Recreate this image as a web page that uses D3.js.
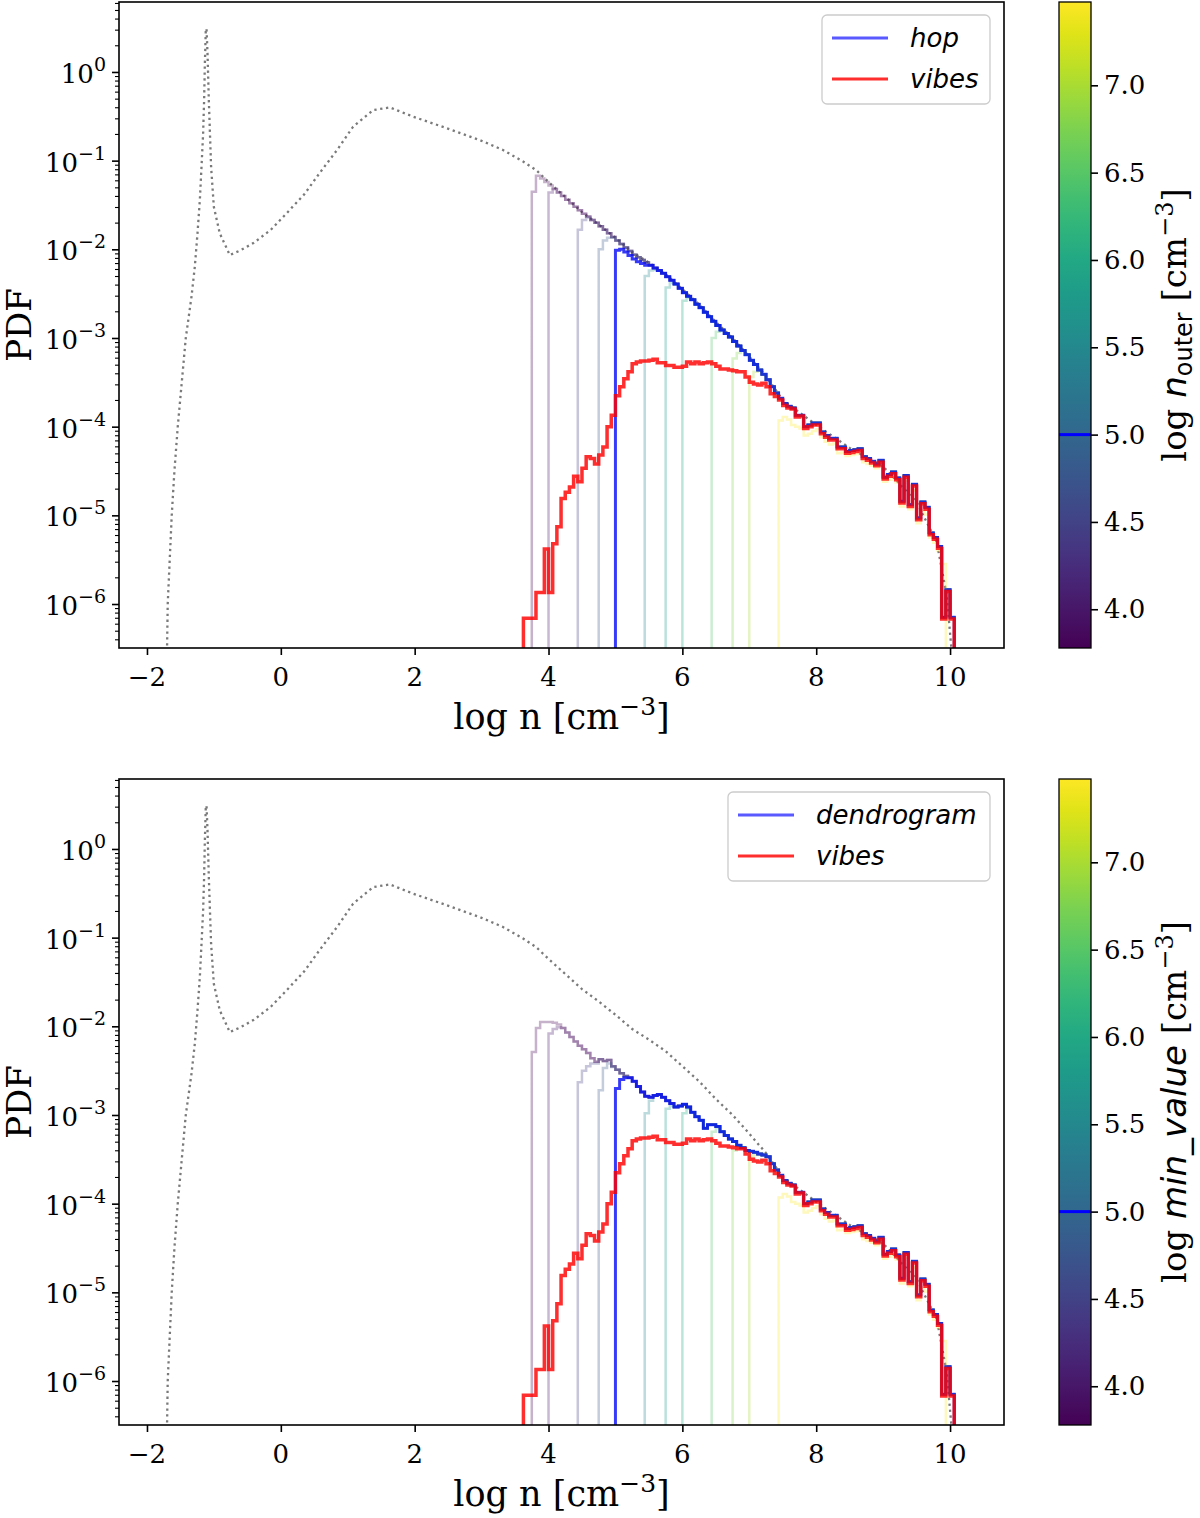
<!DOCTYPE html>
<html><head><meta charset="utf-8">
<script src="https://cdn.jsdelivr.net/npm/d3@7"></script>
<style>body{margin:0;background:#fff}</style>
</head><body>
<svg id="c" width="1200" height="1518"></svg>
<script>
// ---------------- DATA ----------------
const binWidth = 0.0625;                      // histogram bin width in log n
const thresholds = [6e3, 1e4, 3e4, 6e4, 1e5, 3e5, 6e5, 1e6, 3e6, 6e6, 1e7, 3e7]; // cm^-3
const highlightThreshold = 1e5;
const xTicks = [-2, 0, 2, 4, 6, 8, 10];
const yTickExponents = [0, -1, -2, -3, -4, -5, -6];
const colorbarTicks = [4.0, 4.5, 5.0, 5.5, 6.0, 6.5, 7.0];

// whole-simulation PDF (gray dotted): log n and log10 PDF
const allGasLogN = [-1.71,-1.70,-1.69,-1.66,-1.63,-1.59,-1.54,-1.48,-1.42,-1.335,-1.285,-1.245,-1.21,-1.185,-1.161,-1.146,-1.136,-1.121,-1.11,-1.095,-1.076,-1.042,-1.001,-0.912,-0.762,-0.60,-0.41,-0.15,0.085,0.35,0.58,0.85,1.08,1.38,1.63,1.98,2.48,2.97,3.32,3.62,3.82,4.0,4.25,4.5,4.75,5.0,5.25,5.5,5.75,6.0,6.25,6.5,6.75,7.0,7.25,7.5,8.0,8.5,9.0,9.5,9.8,9.95,10.02,10.05];
const allGasLogPdf = [-7,-6.5,-6,-5.5,-5,-4.5,-4,-3.5,-3,-2.536,-2.196,-1.82,-1.444,-1.068,-0.692,-0.316,0.06,0.474,0.49,0.2,-0.316,-1.068,-1.52,-1.82,-2.065,-2.01,-1.93,-1.78,-1.595,-1.38,-1.14,-0.87,-0.617,-0.43,-0.40,-0.505,-0.635,-0.767,-0.88,-1.01,-1.11,-1.24,-1.41,-1.58,-1.72,-1.87,-2.03,-2.15,-2.28,-2.45,-2.62,-2.82,-3.0,-3.21,-3.43,-3.70,-3.98,-4.24,-4.45,-4.85,-5.3,-5.9,-6.5,-7];

// VIBES histogram (red), log10 PDF per bin, first bin starts at vibesStart
const vibesStart = 3.625;
const vibesLogPdf = [-6.16,-6.16,-6.16,-5.87,-5.87,-5.38,-5.87,-5.32,-5.13,-4.81,-4.74,-4.68,-4.56,-4.62,-4.47,-4.34,-4.36,-4.42,-4.32,-4.23,-4.00,-3.87,
 -3.65,-3.55,-3.46,-3.38,-3.29,-3.27,-3.26,-3.26,-3.25,-3.24,-3.28,-3.28,-3.31,-3.31,-3.33,-3.33,
 -3.32,-3.27,-3.29,-3.27,-3.29,-3.28,-3.27,-3.29,-3.32,-3.35,-3.35,-3.36,-3.37,-3.38,-3.38,-3.44,
 -3.50,-3.52,-3.53,-3.51,-3.55,-3.63,-3.66,-3.70,-3.76,-3.79,-3.80,-3.89,-3.88,-4.02,-4.00,-3.98,
 -3.98,-4.08,-4.12,-4.15,-4.15,-4.25,-4.25,-4.30,-4.29,-4.28,-4.27,-4.36,-4.38,-4.41,-4.44,-4.40,
 -4.59,-4.56,-4.53,-4.60,-4.86,-4.57,-4.90,-4.67,-5.05,-4.87,-4.93,-5.22,-5.27,-5.37,-6.17,-5.86,-6.17];

// common envelope of threshold histograms (log10 PDF), bins from envelopeStart to 7.4375
const envelopeStart = 3.8125;
const hopEnvelopeLogPdf = [-1.17,-1.20,-1.24,
 -1.28,-1.32,-1.36,-1.40,-1.44,-1.48,-1.52,-1.56,-1.60,-1.63,-1.67,-1.70,-1.74,-1.78,-1.82,-1.86,
 -1.90,-1.94,-1.98,-2.02,-2.06,-2.09,-2.12,-2.15,-2.18,-2.21,-2.24,-2.27,-2.31,-2.35,-2.39,-2.44,
 -2.49,-2.53,-2.57,-2.62,-2.66,-2.71,-2.76,-2.81,-2.86,-2.91,-2.95,-2.99,-3.04,-3.09,-3.14,-3.19,
 -3.25,-3.30,-3.36,-3.41,-3.47,-3.55,-3.62,-3.68];
const dendroEnvelopeLogPdf = [-2.02,-1.95,-1.95,
 -1.95,-1.96,-1.98,-2.02,-2.07,-2.12,-2.17,-2.22,-2.26,-2.30,-2.36,-2.40,-2.37,-2.39,-2.38,-2.45,
 -2.49,-2.53,-2.56,-2.58,-2.62,-2.68,-2.74,-2.79,-2.80,-2.78,-2.77,-2.80,-2.84,-2.87,-2.91,-2.90,
 -2.88,-2.91,-2.97,-3.02,-3.06,-3.15,-3.11,-3.11,-3.13,-3.19,-3.23,-3.27,-3.30,-3.34,-3.37,-3.40,
 -3.41,-3.42,-3.44,-3.45,-3.47,-3.55,-3.62,-3.68];
// shared high-density tail of the threshold histograms, bins 7.5 .. 10.0
const sharedTailLogPdf = [-3.74,-3.77,-3.79,-3.87,-3.87,-4.00,-3.98,-3.96,
 -3.96,-4.06,-4.10,-4.13,-4.13,-4.23,-4.23,-4.28,-4.27,-4.26,-4.25,-4.34,-4.36,-4.39,-4.42,-4.38,
 -4.57,-4.54,-4.51,-4.58,-4.84,-4.55,-4.88,-4.65,-5.03,-4.85,-4.91,-5.20,-5.25,-5.35,-6.15,-5.84,-6.15];
// first bins of each threshold histogram before it joins the envelope (log10 PDF)
const hopHeadLogPdf = [[-1.35],[-1.36],[-1.78,-1.67,-1.64],[-2.0,-1.90,-1.87,-1.87],
 [-2.01,-2.0,-2.03,-2.07,-2.11,-2.14,-2.16,-2.18],[-2.30,-2.24,-2.23],[-2.43,-2.38,-2.40],
 [-2.58,-2.55],[-3.0,-2.93],[-3.23,-3.17],[-3.44,-3.38]];
const dendroHeadLogPdf = [[-2.29],[-2.08,-2.03,-2.01],[-2.63,-2.50,-2.45,-2.42,-2.42],[-2.72,-2.47,-2.42,-2.46],
 [-2.70,-2.60,-2.58],[-2.98,-2.84],[-2.93,-2.90],[-2.98,-2.93],[-3.19,-3.15],[-3.40,-3.37],[-3.47,-3.45]];
// highest-threshold histogram (3e7), complete, bins 7.4375 .. 9.875
const topThresholdLogPdf = [-3.93,-3.89,-3.92,-3.98,-4.0,-4.02,-4.10,-4.08,-4.05,
 -4.03,-4.12,-4.17,-4.20,-4.19,-4.30,-4.29,-4.33,-4.32,-4.31,-4.30,-4.40,-4.42,-4.44,-4.47,-4.43,
 -4.62,-4.60,-4.57,-4.63,-4.90,-4.61,-4.93,-4.72,-5.09,-4.95,-4.99,-5.25,-5.31,-5.40,-5.55];

// ---------------- DRAWING ----------------
const serif = "'DejaVu Serif','Liberation Serif',serif";
const sans = "'DejaVu Sans','Liberation Sans',sans-serif";
const svg = d3.select('#c');
const L = 119, R = 1004;
const x = d3.scaleLinear().domain([-2.418, 10.806]).range([L, R]);
const floorVal = 1e-9;
const cmin = Math.log10(thresholds[0]), cmax = Math.log10(thresholds[thresholds.length-1]);

const panels = [
  {top: 2, bottom: 648, env: hopEnvelopeLogPdf, heads: hopHeadLogPdf, legend: 'hop', box: [822, 15, 168, 89], cb: 'outer'},
  {top: 779, bottom: 1425, env: dendroEnvelopeLogPdf, heads: dendroHeadLogPdf, legend: 'dendrogram', box: [728, 792, 262, 89], cb: 'min'}
];

function stepPoints(start, vals) {
  const pts = [[start, floorVal]];
  vals.forEach((v, i) => {
    pts.push([start + i * binWidth, Math.pow(10, v)]);
    pts.push([start + (i + 1) * binWidth, Math.pow(10, v)]);
  });
  pts.push([start + vals.length * binWidth, floorVal]);
  return pts;
}

panels.forEach((p, pi) => {
  const y = d3.scaleLog().domain([Math.pow(10, -6.496), Math.pow(10, 0.789)]).range([p.bottom, p.top]);
  const g = svg.append('g');
  const clipId = 'clip' + pi;
  svg.append('defs').append('clipPath').attr('id', clipId)
    .append('rect').attr('x', L).attr('y', p.top).attr('width', R - L).attr('height', p.bottom - p.top);
  const plot = g.append('g').attr('clip-path', `url(#${clipId})`);
  const line = d3.line().x(d => x(d[0])).y(d => y(d[1]));

  // dotted all-gas PDF
  plot.append('path').datum(allGasLogN.map((n, i) => [n, Math.pow(10, allGasLogPdf[i])]))
    .attr('d', line).attr('fill', 'none').attr('stroke', '#7a7a7a').attr('stroke-width', 2.3)
    .attr('stroke-dasharray', '2.3,3.6');

  // threshold histograms
  const fullEnv = p.env.concat(sharedTailLogPdf);
  thresholds.forEach((t, ti) => {
    const lt = Math.log10(t);
    const start = Math.floor(lt / binWidth + 1e-9) * binWidth;
    let vals;
    if (ti === thresholds.length - 1) vals = topThresholdLogPdf;
    else {
      const head = p.heads[ti];
      const j0 = Math.round((start + head.length * binWidth - envelopeStart) / binWidth);
      vals = head.concat(fullEnv.slice(j0));
    }
    const col = d3.interpolateViridis((lt - cmin) / (cmax - cmin));
    plot.append('path').datum(stepPoints(start, vals)).attr('d', line).attr('fill', 'none')
      .attr('stroke', col).attr('stroke-opacity', 0.3).attr('stroke-width', 2.5);
    if (t === highlightThreshold) p.hl = {start, vals};
  });
  plot.append('path').datum(stepPoints(p.hl.start, p.hl.vals)).attr('d', line).attr('fill', 'none')
    .attr('stroke', '#0000ff').attr('stroke-opacity', 0.72).attr('stroke-width', 3);
  // vibes
  plot.append('path').datum(stepPoints(vibesStart, vibesLogPdf)).attr('d', line).attr('fill', 'none')
    .attr('stroke', '#ff0000').attr('stroke-opacity', 0.82).attr('stroke-width', 3.5);

  // frame
  g.append('rect').attr('x', L).attr('y', p.top).attr('width', R - L).attr('height', p.bottom - p.top)
    .attr('fill', 'none').attr('stroke', '#000').attr('stroke-width', 1.6);

  // x axis
  const xa = g.append('g').attr('transform', `translate(0,${p.bottom})`)
    .call(d3.axisBottom(x).tickValues(xTicks).tickSize(7).tickFormat(''));
  xa.select('.domain').remove();
  xa.selectAll('line').attr('stroke-width', 1.6);
  xTicks.forEach(v => {
    g.append('text').attr('x', x(v)).attr('y', p.bottom + 38).attr('text-anchor', 'middle')
      .style('font-family', serif).attr('font-size', 26).text(v < 0 ? '\u2212' + Math.abs(v) : v);
  });

  // y axis major + minor
  const majors = yTickExponents.map(e => Math.pow(10, e));
  const minors = [];
  for (let e = -7; e <= 0; e++) for (let m = 2; m <= 9; m++) {
    const v = m * Math.pow(10, e);
    if (v >= Math.pow(10, -6.496) && v <= Math.pow(10, 0.789)) minors.push(v);
  }
  const ya = g.append('g').attr('transform', `translate(${L},0)`)
    .call(d3.axisLeft(y).tickValues(majors).tickSize(7).tickFormat(''));
  ya.select('.domain').remove();
  ya.selectAll('line').attr('stroke-width', 1.6);
  const ym = g.append('g').attr('transform', `translate(${L},0)`)
    .call(d3.axisLeft(y).tickValues(minors).tickSize(4).tickFormat(''));
  ym.select('.domain').remove();
  ym.selectAll('line').attr('stroke-width', 1.1);
  yTickExponents.forEach(e => {
    const t = g.append('text').attr('x', 106).attr('y', y(Math.pow(10, e)) + 11).attr('text-anchor', 'end')
      .style('font-family', serif).attr('font-size', 26);
    t.append('tspan').text('10');
    t.append('tspan').attr('dy', -12).attr('font-size', 19).text(e < 0 ? '\u2212' + Math.abs(e) : e);
  });

  // axis labels
  g.append('text').attr('transform', `translate(31,${(p.top + p.bottom) / 2}) rotate(-90)`)
    .attr('text-anchor', 'middle').style('font-family', serif).attr('font-size', 34).text('PDF');
  const xl = g.append('text').attr('x', (L + R) / 2).attr('y', p.bottom + 81).attr('text-anchor', 'middle')
    .style('font-family', serif).attr('font-size', 35);
  xl.append('tspan').text('log n [cm');
  xl.append('tspan').attr('dy', -14).attr('font-size', 25).text('\u22123');
  xl.append('tspan').attr('dy', 14).text(']');

  // legend
  const [bx, by, bw, bh] = p.box;
  g.append('rect').attr('x', bx).attr('y', by).attr('width', bw).attr('height', bh).attr('rx', 5)
    .attr('fill', '#fff').attr('fill-opacity', 0.8).attr('stroke', '#cccccc').attr('stroke-width', 1.3);
  [[p.legend, '#0000ff', 0.65], ['vibes', '#ff0000', 0.82]].forEach((it, k) => {
    const ly = by + 23 + k * 41;
    g.append('line').attr('x1', bx + 10).attr('x2', bx + 66).attr('y1', ly).attr('y2', ly)
      .attr('stroke', it[1]).attr('stroke-opacity', it[2]).attr('stroke-width', 2.8);
    g.append('text').attr('x', bx + 88).attr('y', ly + 9).style('font-family', sans).style('font-style', 'italic')
      .attr('font-size', 26).text(it[0]);
  });

  // colorbar
  const cy = d3.scaleLinear().domain([cmin, cmax]).range([p.bottom, p.top]);
  const gid = 'grad' + pi;
  const grad = svg.append('defs').append('linearGradient').attr('id', gid)
    .attr('x1', 0).attr('y1', 1).attr('x2', 0).attr('y2', 0);
  d3.range(0, 1.0001, 0.05).forEach(s => grad.append('stop').attr('offset', s).attr('stop-color', d3.interpolateViridis(s)));
  const cx0 = 1059, cw = 32;
  g.append('rect').attr('x', cx0).attr('y', p.top).attr('width', cw).attr('height', p.bottom - p.top)
    .attr('fill', `url(#${gid})`);
  g.append('line').attr('x1', cx0).attr('x2', cx0 + cw).attr('y1', cy(Math.log10(highlightThreshold))).attr('y2', cy(Math.log10(highlightThreshold)))
    .attr('stroke', '#0000ff').attr('stroke-width', 3);
  g.append('rect').attr('x', cx0).attr('y', p.top).attr('width', cw).attr('height', p.bottom - p.top)
    .attr('fill', 'none').attr('stroke', '#000').attr('stroke-width', 1.3);
  const ca = g.append('g').attr('transform', `translate(${cx0 + cw},0)`)
    .call(d3.axisRight(cy).tickValues(colorbarTicks).tickSize(7).tickFormat(''));
  ca.select('.domain').remove();
  ca.selectAll('line').attr('stroke-width', 1.6);
  colorbarTicks.forEach(v => {
    g.append('text').attr('x', cx0 + cw + 13).attr('y', cy(v) + 9).style('font-family', serif)
      .attr('font-size', 26).text(v.toFixed(1));
  });
  const cl = g.append('text').attr('transform', `translate(1186,${(p.top + p.bottom) / 2}) rotate(-90)`)
    .attr('text-anchor', 'middle').style('font-family', serif).attr('font-size', 34);
  cl.append('tspan').text('log ');
  if (p.cb === 'outer') {
    cl.append('tspan').style('font-family', sans).style('font-style', 'italic').text('n');
    cl.append('tspan').style('font-family', sans).attr('font-size', 24).attr('dy', 6).text('outer');
    cl.append('tspan').attr('dy', -6).text(' [cm');
  } else {
    cl.append('tspan').style('font-family', sans).style('font-style', 'italic').text('min_value');
    cl.append('tspan').text(' [cm');
  }
  cl.append('tspan').attr('dy', -13).attr('font-size', 24).text('\u22123');
  cl.append('tspan').attr('dy', 13).text(']');
});
</script>
</body></html>
